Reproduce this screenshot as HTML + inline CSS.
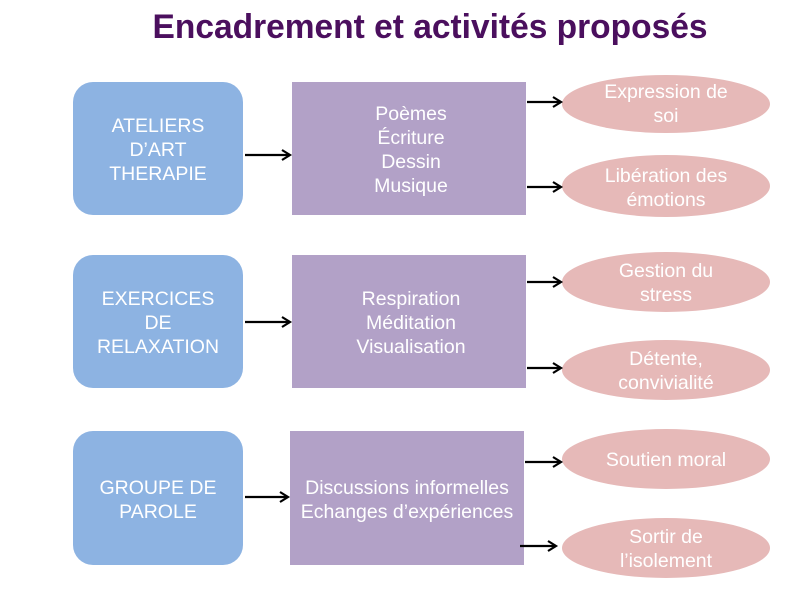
<!DOCTYPE html>
<html><head><meta charset="utf-8"><style>body{margin:0;background:#fff}svg{display:block}</style></head>
<body>
<svg width="800" height="600" xmlns="http://www.w3.org/2000/svg" font-family="Liberation Sans, sans-serif">
<defs><marker id="a" markerWidth="12" markerHeight="12" refX="9" refY="6" orient="auto" markerUnits="userSpaceOnUse"><path d="M1,1 L9,6 L1,11" fill="none" stroke="#000" stroke-width="2.2"/></marker></defs>
<text x="430" y="38" text-anchor="middle" font-size="34" font-weight="bold" fill="#4b0f5e" textLength="555" lengthAdjust="spacingAndGlyphs">Encadrement et activités proposés</text>
<g fill="#8db3e2">
<rect x="73" y="82" width="170" height="133" rx="20"/>
<rect x="73" y="255" width="170" height="133" rx="20"/>
<rect x="73" y="431" width="170" height="134" rx="20"/>
</g>
<g fill="#b2a1c7">
<rect x="292" y="82" width="234" height="133"/>
<rect x="292" y="255" width="234" height="133"/>
<rect x="290" y="431" width="234" height="134"/>
</g>
<g fill="#e6b9b8">
<ellipse cx="666" cy="104" rx="104" ry="29"/>
<ellipse cx="666" cy="186" rx="104" ry="31"/>
<ellipse cx="666" cy="282" rx="104" ry="30"/>
<ellipse cx="666" cy="370" rx="104" ry="30"/>
<ellipse cx="666" cy="459" rx="104" ry="30"/>
<ellipse cx="666" cy="548" rx="104" ry="30"/>
</g>
<g stroke="#000" stroke-width="2.2" marker-end="url(#a)">
<line x1="245" y1="155" x2="290" y2="155"/>
<line x1="245" y1="322" x2="290" y2="322"/>
<line x1="245" y1="497" x2="288" y2="497"/>
<line x1="527" y1="102" x2="561" y2="102"/>
<line x1="527" y1="187" x2="561" y2="187"/>
<line x1="527" y1="282" x2="561" y2="282"/>
<line x1="527" y1="368" x2="561" y2="368"/>
<line x1="525" y1="462" x2="561" y2="462"/>
<line x1="520" y1="546" x2="556" y2="546"/>
</g>
<g fill="#fff" font-size="19.5" text-anchor="middle">
<text x="158" y="132">ATELIERS</text><text x="158" y="156">D’ART</text><text x="158" y="180">THERAPIE</text>
<text x="158" y="305">EXERCICES</text><text x="158" y="329">DE</text><text x="158" y="353">RELAXATION</text>
<text x="158" y="494">GROUPE DE</text><text x="158" y="518">PAROLE</text>
<text x="411" y="120">Poèmes</text><text x="411" y="144">Écriture</text><text x="411" y="168">Dessin</text><text x="411" y="192">Musique</text>
<text x="411" y="305">Respiration</text><text x="411" y="329">Méditation</text><text x="411" y="353">Visualisation</text>
<text x="407" y="494">Discussions informelles</text><text x="407" y="518">Echanges d’expériences</text>
<text x="666" y="98">Expression de</text><text x="666" y="122">soi</text>
<text x="666" y="182">Libération des</text><text x="666" y="206">émotions</text>
<text x="666" y="277">Gestion du</text><text x="666" y="301">stress</text>
<text x="666" y="365">Détente,</text><text x="666" y="389">convivialité</text>
<text x="666" y="466">Soutien moral</text>
<text x="666" y="543">Sortir de</text><text x="666" y="567">l’isolement</text>
</g>
</svg>
</body></html>
